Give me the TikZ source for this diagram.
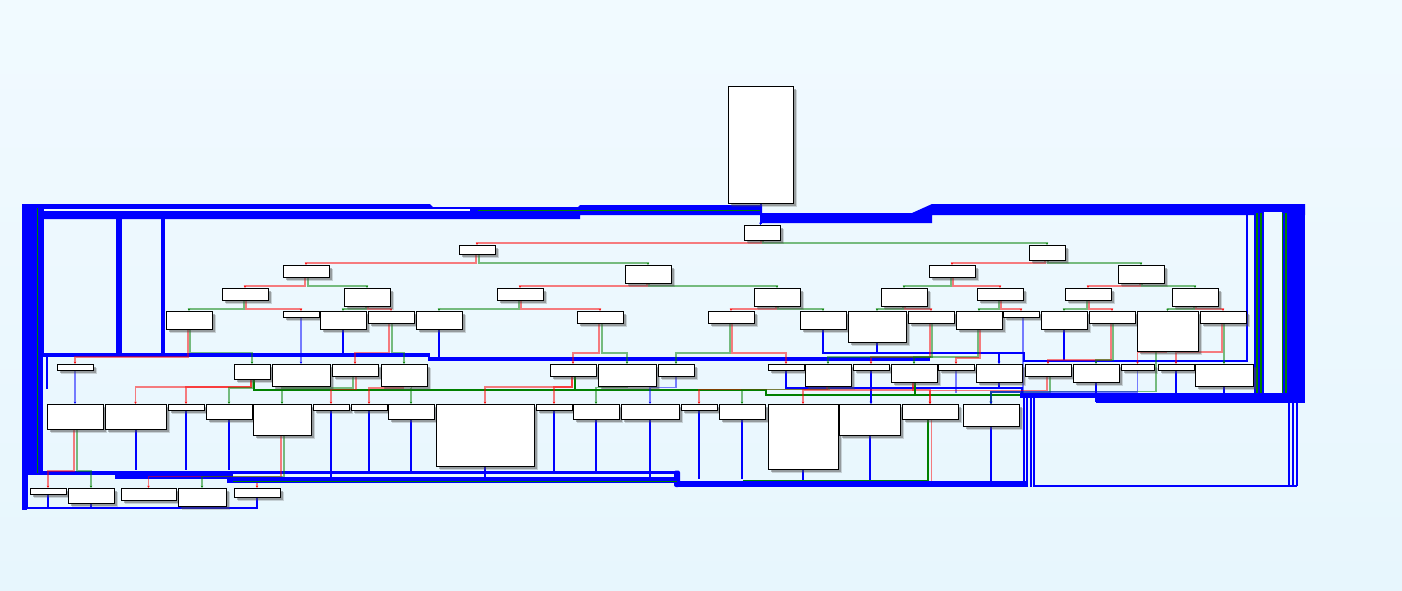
\documentclass[tikz,border=0pt]{standalone}
\usetikzlibrary{shadows,arrows.meta}
\pgfdeclarelayer{bands}
\pgfdeclarelayer{edges}
\pgfsetlayers{bands,edges,main}
\definecolor{bgtop}{RGB}{241,250,255}
\definecolor{bgbot}{RGB}{231,246,253}
\definecolor{bgmid}{RGB}{237,248,254}
\definecolor{ebl}{RGB}{0,0,255}
\definecolor{edg}{RGB}{0,128,0}
\tikzset{
 blk/.style={draw=black,line width=1pt,fill=white,inner sep=0pt,outer sep=0pt,anchor=north west,
   drop shadow={shadow xshift=4pt,shadow yshift=-4pt,fill=black!70,opacity=0.22},
   drop shadow={shadow xshift=2.5pt,shadow yshift=-2.5pt,fill=black!70,opacity=0.4}},
 tipE/.style={-{Stealth[length=2.4pt,width=2.8pt]}},
 rE/.style={draw=red,draw opacity=0.5,line width=1.6pt,tipE},
 gE/.style={draw=edg,draw opacity=0.5,line width=1.6pt,tipE},
 lbE/.style={draw=ebl,draw opacity=0.5,line width=1.6pt,tipE},
 bE/.style={draw=ebl,line width=2pt},
 bEt/.style={bE,tipE},
 dgE/.style={draw=edg,line width=1.8pt},
 band/.style={fill=ebl},
}
\newcommand\bx[5]{\node[blk,minimum width=#4pt,minimum height=#5pt] (#1) at (#2,#3) {};}
\newcommand\tr[5]{\draw[#1] ([xshift=#2pt]#3.south) -- ++(0,#4) -| (#5.north);}
\newcommand\dn[3]{\draw[#1] (#2.south) -- ++(0,#3);}
\begin{document}
\begin{tikzpicture}[x=1pt,y=-1pt]
\useasboundingbox (0,0) rectangle (1402,590);
\begin{pgfonlayer}{bands}
\fill[top color=bgtop,bottom color=bgbot] (0,0) rectangle (1402,590);
% top band
\fill[band] (22,204) -- (430,204) -- (433,207) -- (578,207) -- (580,205) -- (762,205) -- (762,215) -- (580,215) -- (580,219) -- (22,219) -- cycle;
\fill[band] (762,213) -- (912,213) -- (932,204) -- (1305,204) -- (1305,215) -- (932,215) -- (932,223) -- (762,223) -- cycle;
\fill[bgtop] (40,209.4) rectangle (470,211);
\draw[edg,line width=1pt] (478,210.5) -- (762,210.5);
% right block
\fill[band] (1254,204) rectangle (1305,402.7);
\fill[bgmid] (1264,212) rectangle (1281.5,396.5);
\draw[edg,line width=1.5pt] (1257,213) -- (1257,400) (1261,213) -- (1261,400) (1282.3,213) -- (1282.3,397) (1286,213) -- (1286,400) (1264,396.3) -- (1282.3,396.3);
\fill[band] (1020,393) rectangle (1305,398);
\fill[band] (1096,398) rectangle (1305,402.7);
\draw[bE] (1024,393) -- (1024,487) (1027.3,393) -- (1027.3,487) (1030.6,393) -- (1030.6,487) (1034,393) -- (1034,485.5) -- (1296.5,485.5);
\draw[bE] (1288.5,402) -- (1288.5,485.5) (1292.5,402) -- (1292.5,485.5) (1296.5,402) -- (1296.5,485.5);
% left side
\fill[band] (22,204) rectangle (44,357);
\fill[band] (22,357) rectangle (43,474);
\draw[bE] (46.5,355) -- (46.5,389);
\fill[band] (116,214) rectangle (122,353);
\fill[band] (161,217) rectangle (165,353);
\fill[band] (44,353) rectangle (430,357);
\fill[band] (428,357) rectangle (930,361);
% bottom bands
\fill[band] (22,470.5) rectangle (233,475);
\fill[band] (22,474) rectangle (27,510);
\fill[band] (115,475) rectangle (233,479.3);
\fill[band] (227,476.7) rectangle (679,482.7);
\fill[band] (233,470.5) rectangle (679,473.5);
\fill[band,rounded corners=2pt] (674,470.5) rectangle (680,487);
\fill[band] (677,480.5) rectangle (1026,487);
\draw[edg,line width=1pt] (233,481.7) -- (677,481.7);
\draw[edg,line width=1.3pt] (37.2,208) -- (37.2,473);
\end{pgfonlayer}
% ---------- blocks ----------
\bx{r0}{728}{86}{65}{117}
\bx{r1}{744}{225}{36}{15}
\bx{a1}{459}{245}{36}{9}
\bx{a2}{1029}{245}{36}{15}
\bx{b1}{283}{265}{46}{12}
\bx{b2}{625}{265}{46}{18}
\bx{b3}{929}{265}{46}{12}
\bx{b4}{1118}{265}{46}{18}
\bx{c1}{222}{288}{46}{12}
\bx{c2}{344}{288}{46}{18}
\bx{c3}{497}{288}{46}{12}
\bx{c4}{754}{288}{46}{18}
\bx{c5}{881}{288}{46}{18}
\bx{c6}{977}{288}{46}{12}
\bx{c7}{1065}{288}{46}{12}
\bx{c8}{1172}{288}{46}{18}
\bx{d1}{166}{311}{46}{18}
\bx{d2}{283}{311}{36}{6}
\bx{d3}{320}{311}{46}{18}
\bx{d4}{368}{311}{46}{12}
\bx{d5}{416}{311}{46}{18}
\bx{d6}{577}{311}{46}{12}
\bx{d7}{708}{311}{46}{12}
\bx{d8}{800}{311}{46}{18}
\bx{d9}{848}{311}{58}{31}
\bx{d10}{908}{311}{46}{12}
\bx{d11}{956}{311}{46}{18}
\bx{d12}{1003}{311}{36}{6}
\bx{d13}{1041}{311}{46}{18}
\bx{d14}{1089}{311}{46}{12}
\bx{d15}{1137}{311}{61}{40}
\bx{d16}{1200}{311}{46}{12}
\bx{e1}{57}{364}{36}{6}
\bx{e2}{234}{364}{36}{15}
\bx{e3}{272}{364}{58}{22}
\bx{e4}{332}{364}{46}{12}
\bx{e5}{381}{364}{46}{22}
\bx{e6}{550}{364}{46}{12}
\bx{e7}{598}{364}{58}{22}
\bx{e8}{658}{364}{36}{12}
\bx{e9}{768}{364}{36}{6}
\bx{e10}{805}{364}{46}{22}
\bx{e11}{853}{364}{36}{6}
\bx{e12}{891}{364}{46}{18}
\bx{e13}{938}{364}{36}{6}
\bx{e14}{976}{364}{46}{18}
\bx{e15}{1025}{364}{46}{12}
\bx{e16}{1073}{364}{46}{18}
\bx{e17}{1121}{364}{33}{6}
\bx{e18}{1158}{364}{36}{6}
\bx{e19}{1195}{364}{58}{22}
\bx{f1}{47}{404}{56}{25}
\bx{f2}{105}{404}{61}{25}
\bx{f3}{168}{404}{36}{6}
\bx{f4}{206}{404}{46}{15}
\bx{f5}{253}{404}{58}{31}
\bx{f6}{313}{404}{36}{6}
\bx{f7}{351}{404}{36}{6}
\bx{f8}{388}{404}{46}{15}
\bx{f9}{436}{404}{98}{62}
\bx{f10}{536}{404}{36}{6}
\bx{f11}{573}{404}{46}{15}
\bx{f12}{621}{404}{58}{15}
\bx{f13}{681}{404}{36}{6}
\bx{f14}{719}{404}{46}{15}
\bx{f15}{768}{404}{70}{65}
\bx{f16}{839}{404}{61}{31}
\bx{f17}{902}{404}{56}{15}
\bx{f18}{963}{404}{56}{22}
\bx{g1}{30}{488}{36}{6}
\bx{g2}{68}{488}{46}{15}
\bx{g3}{121}{488}{55}{12}
\bx{g4}{178}{488}{48}{18}
\bx{g5}{234}{488}{46}{9}
\coordinate (g5in) at (257,483);
% ---------- edges ----------
\begin{pgfonlayer}{edges}
\draw[bEt] (r0.south) -- (r0.south |- r1.north);
\tr{rE}{-1}{r1}{2.7}{a1}
\tr{gE}{1}{r1}{2.7}{a2}
\tr{rE}{-1}{a1}{8.7}{b1}
\tr{gE}{2}{a1}{8.7}{b2}
\tr{rE}{-2}{a2}{2.7}{b3}
\tr{gE}{1}{a2}{2.7}{b4}
\tr{rE}{-1}{b1}{9}{c1}
\tr{gE}{2}{b1}{9}{c2}
\tr{rE}{-1}{b2}{3}{c3}
\tr{gE}{1}{b2}{3}{c4}
\tr{gE}{-1}{b3}{9}{c5}
\tr{rE}{1}{b3}{9}{c6}
\tr{rE}{-1}{b4}{3}{c7}
\tr{gE}{1}{b4}{3}{c8}
\tr{gE}{-1}{c1}{8.7}{d1}
\tr{rE}{1}{c1}{8.7}{d2}
\tr{gE}{-1}{c2}{2.7}{d3}
\tr{rE}{1}{c2}{2.7}{d4}
\tr{gE}{-1}{c3}{8.7}{d5}
\tr{rE}{1}{c3}{8.7}{d6}
\tr{rE}{-1}{c4}{2.7}{d7}
\tr{gE}{1}{c4}{2.7}{d8}
\tr{gE}{-1}{c5}{2.7}{d9}
\tr{rE}{1}{c5}{2.7}{d10}
\tr{gE}{-1}{c6}{8.7}{d11}
\tr{rE}{1}{c6}{8.7}{d12}
\tr{gE}{-1}{c7}{8.7}{d13}
\tr{rE}{1}{c7}{8.7}{d14}
\tr{gE}{-1}{c8}{2.7}{d15}
\tr{rE}{1}{c8}{2.7}{d16}
% row 5 -> row 6
\tr{rE}{-1}{d1}{28}{e1}
\tr{gE}{1}{d1}{23.3}{e2}
\draw[lbE] (d2.south) -- (d2.south |- e3.north);
\dn{bE}{d3}{25}
\tr{rE}{-2}{d4}{29.3}{e4}
\tr{gE}{1}{d4}{29.3}{e5}
\dn{bE}{d5}{28}
\tr{rE}{-1}{d6}{29.7}{e6}
\tr{gE}{2}{d6}{29.7}{e7}
\tr{gE}{-1}{d7}{29.7}{e8}
\tr{rE}{1}{d7}{29.7}{e9}
\draw[bEt] (d8.south) -- ++(0,23.7) -| (e14.north);
\draw[bE] (d9.south) -- ++(0,10.7) -- (1024,352.7) -- (1024,360.7) -- (1247,360.7) -- (1247,214);
\tr{rE}{-1}{d10}{34}{e11}
\tr{gE}{1}{d10}{34}{e12}
\tr{gE}{-1}{d11}{28}{e10}
\tr{rE}{1}{d11}{29}{e13}
\tr{lbE}{2}{d12}{75}{f18}
\dn{bE}{d13}{31}
\tr{rE}{-1}{d14}{36.7}{e15}
\tr{gE}{1}{d14}{36.7}{e16}
\tr{rE}{-1}{d15}{1.6}{e17}
\tr{gE}{-11.5}{d15}{40.3}{f18}
\tr{rE}{-1}{d16}{29}{e18}
\tr{gE}{1}{d16}{29}{e19}
% row 6 -> row 7
\draw[lbE] (e1.south) -- (e1.south |- f1.north);
\tr{rE}{-1}{e2}{8}{f2}
\tr{rE}{-1}{e2}{8}{f3}
\tr{gE}{1}{e2}{9}{f4}
\draw[dgE] ([xshift=2pt]e2.south) -- ++(0,11) -- (766,390) -- (766,395) -- (1020,395);
\tr{rE}{1}{e4}{13.3}{f6}
\tr{gE}{-2}{e4}{12}{f5}
\tr{rE}{-1}{e5}{1.7}{f7}
\tr{gE}{7.5}{e5}{3}{f8}
\tr{rE}{-1}{e6}{11}{f9}
\tr{rE}{-1}{e6}{11}{f10}
\draw[dgE] ([xshift=2pt]e6.south) -- ++(0,13.3);
\tr{gE}{0}{e7}{1.3}{f11}
\tr{lbE}{0}{e8}{11.3}{f12}
\draw[bE] (e9.south) -- ++(0,18.3) -- (1022,388.3) -- (1022,393);
\tr{rE}{-1}{e10}{3.3}{f13}
\tr{gE}{1}{e10}{3.3}{f14}
\draw[bEt] (e11.south) -- (e11.south |- f16.north);
\tr{rE}{-1}{e12}{8}{f15}
\tr{rE}{-1}{e12}{8}{f17}
\draw[dgE] ([xshift=1pt]e12.south) -- ++(0,13);
\draw[lbE,-] (e13.south) -- ++(0,23);
\draw[bE] (e14.south) -- ++(0,6.3) -- (1022,388.3);
\tr{rE}{-1}{e15}{14.3}{f17}
\tr{gE}{2}{e15}{16.3}{f18}
\dn{bE}{e16}{19.7}
\tr{lbE}{0}{e17}{22}{f18}
\dn{bE}{e18}{25}
\dn{bE}{e19}{9}
% row 7 -> bottom
\tr{rE}{-1}{f1}{41.7}{g1}
\tr{gE}{2}{f1}{41.7}{g2}
\tr{rE}{-1}{f5}{41.3}{g3}
\tr{gE}{2}{f5}{41.3}{g4}
\draw[rE] (g5in) -- (g5in |- g5.north);
\dn{bE}{f2}{41}
\dn{bE}{f3}{60}
\dn{bE}{f4}{51}
\dn{bE}{f6}{68}
\dn{bE}{f7}{61.7}
\dn{bE}{f8}{52.7}
\dn{bE}{f9}{12}
\dn{bE}{f10}{61.7}
\dn{bE}{f11}{52.7}
\dn{bE}{f12}{59}
\dn{bE}{f13}{69}
\dn{bE}{f14}{60}
\dn{bE}{f15}{11}
\dn{bE}{f16}{45}
\draw[dgE] ([xshift=-2pt]f17.south) -- ++(0,61.5) -- (743,480.5);
\draw[rE,-] ([xshift=1.5pt]f17.south) -- ++(0,62);
\dn{bE}{f18}{55}
\draw[bE] (g5.south) -- ++(0,11) -- (27,508) -- (27,475);
\dn{bE}{g1}{14}
\dn{bE}{g2}{5}
\end{pgfonlayer}
\end{tikzpicture}
\end{document}
